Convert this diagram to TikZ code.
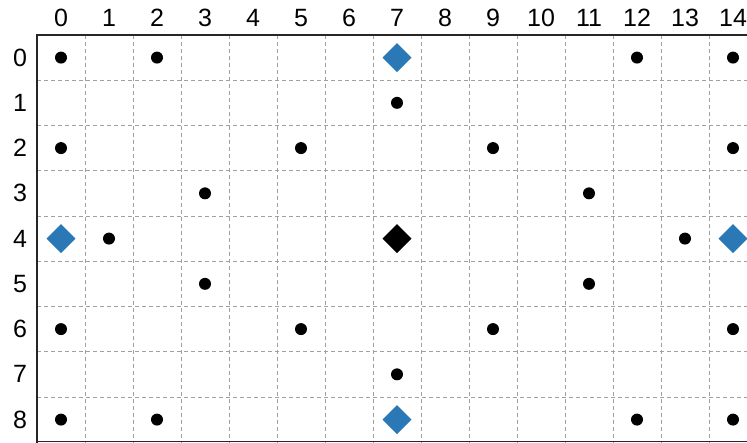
\documentclass[tikz,border=0pt]{standalone}
\usepackage{fontspec}
\setmainfont{Liberation Sans}
\definecolor{mblue}{HTML}{2A78B6}
\definecolor{gridgray}{HTML}{A0A0A0}
\tikzset{
  gridline/.style={draw=gridgray, line width=0.9pt, dash pattern=on 4pt off 3pt},
  frameline/.style={draw=black!85, line width=1.4pt},
  dotnode/.style={circle, fill=black, inner sep=0pt, minimum size=12pt},
  bluediamond/.style={diamond, fill=mblue, inner sep=0pt, minimum width=29pt, minimum height=29pt},
  blackdiamond/.style={diamond, fill=black, inner sep=0pt, minimum width=29pt, minimum height=29pt},
  axislabel/.style={inner sep=0pt, font=\fontsize{25}{25}\selectfont}
}
\usetikzlibrary{shapes.geometric}
\begin{document}
\begin{tikzpicture}[x=1pt, y=-1pt]
\useasboundingbox (0,0) rectangle (747,443);
\clip (0,0) rectangle (747,443);
\fill[white] (0,0) rectangle (747,443);
% grid
\foreach \k in {1,...,14} {
  \draw[gridline] ({37+48*\k},35) -- ({37+48*\k},443);
}
\foreach \k in {1,...,8} {
  \draw[gridline] (37,{35+45.25*\k}) -- (747,{35+45.25*\k});
}
% frame
\draw[frameline] (747,35) -- (37,35) -- (37,443);
\draw[frameline] (37,441.5) -- (747,441.5);
% labels
\foreach \c in {0,...,14} {
  \node[axislabel] (col\c) at ({61+48*\c},18) {\c};
}
\foreach \r in {0,...,8} {
  \node[axislabel] (row\r) at (20,{57.6+45.25*\r}) {\r};
}
% dots
\foreach \r/\c in {0/0,0/2,0/12,0/14,1/7,2/0,2/5,2/9,2/14,3/3,3/11,4/1,4/13,5/3,5/11,6/0,6/5,6/9,6/14,7/7,8/0,8/2,8/12,8/14} {
  \node[dotnode] (d-\r-\c) at ({61+48*\c},{57.6+45.25*\r}) {};
}
\foreach \r/\c in {0/7,4/0,4/14,8/7} {
  \node[bluediamond] (b-\r-\c) at ({61+48*\c},{57.6+45.25*\r}) {};
}
\node[blackdiamond] (center) at ({61+48*7},{57.6+45.25*4}) {};
\end{tikzpicture}
\end{document}
